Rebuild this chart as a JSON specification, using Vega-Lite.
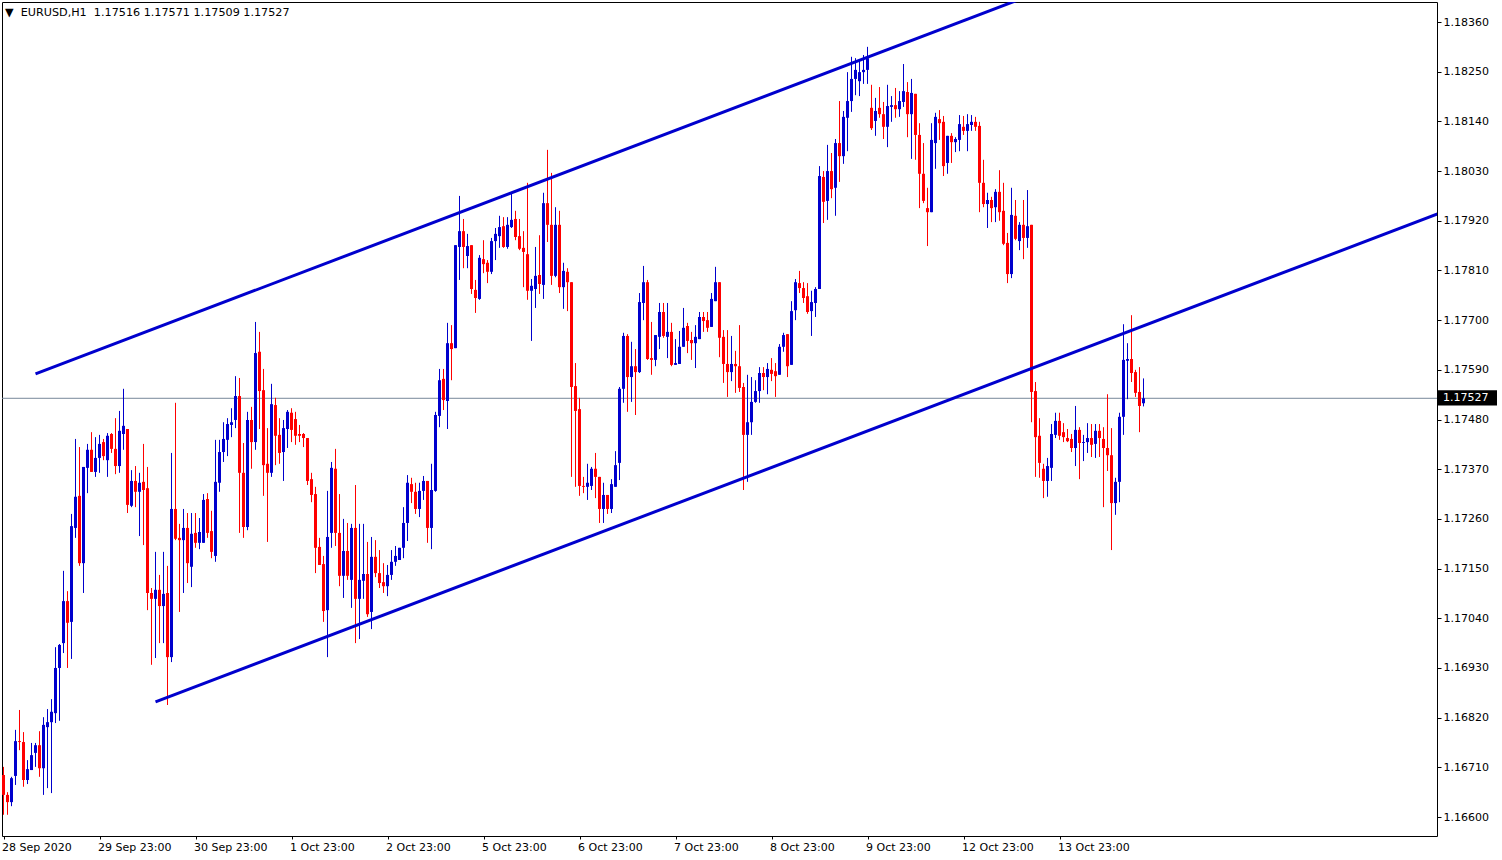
{
  "$schema": "https://vega.github.io/schema/vega-lite/v6.json",
  "width": 1435,
  "height": 834,
  "autosize": {"type": "none"},
  "padding": {"left": 2, "top": 2, "right": 65, "bottom": 24},
  "background": "white",
  "title": {"text": "▼\u00a0\u00a0EURUSD,H1\u00a0\u00a01.17516 1.17571 1.17509 1.17527", "anchor": "start", "frame": "group", "orient": "top", "baseline": "top", "offset": -16, "dx": 3, "font": "DejaVu Sans", "fontSize": 11.2, "fontWeight": "normal", "color": "black"},
  "config": {"view": {"stroke": "black", "strokeWidth": 1}, "axis": {"labelFont": "DejaVu Sans", "labelFontSize": 11, "labelColor": "black", "tickColor": "black", "domain": false, "grid": false}},
  "datasets": {
    "candles": [
{"i":0,"o":1.16693,"h":1.16711,"l":1.16605,"c":1.16649},
{"i":1,"o":1.16649,"h":1.16655,"l":1.16605,"c":1.16633},
{"i":2,"o":1.16633,"h":1.16689,"l":1.16624,"c":1.16686},
{"i":3,"o":1.16691,"h":1.16793,"l":1.16671,"c":1.16768},
{"i":4,"o":1.16768,"h":1.16837,"l":1.16748,"c":1.16766},
{"i":5,"o":1.16766,"h":1.16788,"l":1.16667,"c":1.16682},
{"i":6,"o":1.16682,"h":1.16726,"l":1.16673,"c":1.16706},
{"i":7,"o":1.16704,"h":1.16764,"l":1.16704,"c":1.16737},
{"i":8,"o":1.16742,"h":1.16764,"l":1.16711,"c":1.16759},
{"i":9,"o":1.16759,"h":1.16790,"l":1.16689,"c":1.16708},
{"i":10,"o":1.16708,"h":1.16821,"l":1.16649,"c":1.16804},
{"i":11,"o":1.16799,"h":1.16839,"l":1.16664,"c":1.16810},
{"i":12,"o":1.16810,"h":1.16861,"l":1.16653,"c":1.16833},
{"i":13,"o":1.16830,"h":1.16976,"l":1.16808,"c":1.16930},
{"i":14,"o":1.16930,"h":1.16983,"l":1.16813,"c":1.16981},
{"i":15,"o":1.16985,"h":1.17145,"l":1.16963,"c":1.17078},
{"i":16,"o":1.17078,"h":1.17100,"l":1.16930,"c":1.17030},
{"i":17,"o":1.17032,"h":1.17271,"l":1.16950,"c":1.17244},
{"i":18,"o":1.17240,"h":1.17437,"l":1.17218,"c":1.17309},
{"i":19,"o":1.17311,"h":1.17419,"l":1.17156,"c":1.17162},
{"i":20,"o":1.17162,"h":1.17375,"l":1.17096,"c":1.17375},
{"i":21,"o":1.17373,"h":1.17426,"l":1.17317,"c":1.17413},
{"i":22,"o":1.17413,"h":1.17452,"l":1.17364,"c":1.17364},
{"i":23,"o":1.17364,"h":1.17441,"l":1.17353,"c":1.17395},
{"i":24,"o":1.17395,"h":1.17446,"l":1.17362,"c":1.17426},
{"i":25,"o":1.17430,"h":1.17437,"l":1.17390,"c":1.17399},
{"i":26,"o":1.17390,"h":1.17450,"l":1.17353,"c":1.17444},
{"i":27,"o":1.17448,"h":1.17450,"l":1.17406,"c":1.17415},
{"i":28,"o":1.17415,"h":1.17483,"l":1.17359,"c":1.17377},
{"i":29,"o":1.17377,"h":1.17499,"l":1.17362,"c":1.17455},
{"i":30,"o":1.17448,"h":1.17548,"l":1.17413,"c":1.17466},
{"i":31,"o":1.17459,"h":1.17459,"l":1.17273,"c":1.17291},
{"i":32,"o":1.17289,"h":1.17368,"l":1.17286,"c":1.17344},
{"i":33,"o":1.17344,"h":1.17377,"l":1.17286,"c":1.17320},
{"i":34,"o":1.17320,"h":1.17362,"l":1.17222,"c":1.17340},
{"i":35,"o":1.17342,"h":1.17426,"l":1.17202,"c":1.17324},
{"i":36,"o":1.17328,"h":1.17375,"l":1.17058,"c":1.17096},
{"i":37,"o":1.17096,"h":1.17107,"l":1.16937,"c":1.17083},
{"i":38,"o":1.17083,"h":1.17187,"l":1.16952,"c":1.17103},
{"i":39,"o":1.17103,"h":1.17136,"l":1.16985,"c":1.17067},
{"i":40,"o":1.17067,"h":1.17187,"l":1.16985,"c":1.17094},
{"i":41,"o":1.17096,"h":1.17156,"l":1.16848,"c":1.16954},
{"i":42,"o":1.16954,"h":1.17406,"l":1.16943,"c":1.17282},
{"i":43,"o":1.17282,"h":1.17517,"l":1.17213,"c":1.17216},
{"i":44,"o":1.17218,"h":1.17249,"l":1.17054,"c":1.17213},
{"i":45,"o":1.17213,"h":1.17282,"l":1.17096,"c":1.17240},
{"i":46,"o":1.17240,"h":1.17273,"l":1.17118,"c":1.17162},
{"i":47,"o":1.17154,"h":1.17273,"l":1.17109,"c":1.17227},
{"i":48,"o":1.17229,"h":1.17273,"l":1.17196,"c":1.17207},
{"i":49,"o":1.17207,"h":1.17262,"l":1.17193,"c":1.17231},
{"i":50,"o":1.17207,"h":1.17315,"l":1.17207,"c":1.17302},
{"i":51,"o":1.17304,"h":1.17317,"l":1.17218,"c":1.17229},
{"i":52,"o":1.17233,"h":1.17278,"l":1.17173,"c":1.17187},
{"i":53,"o":1.17178,"h":1.17435,"l":1.17165,"c":1.17342},
{"i":54,"o":1.17340,"h":1.17435,"l":1.17320,"c":1.17408},
{"i":55,"o":1.17408,"h":1.17474,"l":1.17386,"c":1.17437},
{"i":56,"o":1.17435,"h":1.17483,"l":1.17399,"c":1.17470},
{"i":57,"o":1.17468,"h":1.17505,"l":1.17441,"c":1.17474},
{"i":58,"o":1.17479,"h":1.17576,"l":1.17461,"c":1.17532},
{"i":59,"o":1.17532,"h":1.17572,"l":1.17229,"c":1.17362},
{"i":60,"o":1.17362,"h":1.17428,"l":1.17218,"c":1.17242},
{"i":61,"o":1.17242,"h":1.17497,"l":1.17235,"c":1.17479},
{"i":62,"o":1.17479,"h":1.17508,"l":1.17371,"c":1.17430},
{"i":63,"o":1.17430,"h":1.17696,"l":1.17413,"c":1.17627},
{"i":64,"o":1.17630,"h":1.17674,"l":1.17459,"c":1.17543},
{"i":65,"o":1.17545,"h":1.17592,"l":1.17311,"c":1.17379},
{"i":66,"o":1.17382,"h":1.17461,"l":1.17209,"c":1.17362},
{"i":67,"o":1.17362,"h":1.17559,"l":1.17353,"c":1.17514},
{"i":68,"o":1.17512,"h":1.17528,"l":1.17379,"c":1.17444},
{"i":69,"o":1.17446,"h":1.17483,"l":1.17382,"c":1.17406},
{"i":70,"o":1.17408,"h":1.17479,"l":1.17344,"c":1.17461},
{"i":71,"o":1.17459,"h":1.17501,"l":1.17417,"c":1.17497},
{"i":72,"o":1.17495,"h":1.17505,"l":1.17430,"c":1.17457},
{"i":73,"o":1.17481,"h":1.17497,"l":1.17424,"c":1.17444},
{"i":74,"o":1.17448,"h":1.17468,"l":1.17430,"c":1.17444},
{"i":75,"o":1.17448,"h":1.17450,"l":1.17419,"c":1.17439},
{"i":76,"o":1.17439,"h":1.17439,"l":1.17335,"c":1.17344},
{"i":77,"o":1.17348,"h":1.17362,"l":1.17297,"c":1.17313},
{"i":78,"o":1.17315,"h":1.17331,"l":1.17140,"c":1.17196},
{"i":79,"o":1.17198,"h":1.17218,"l":1.17158,"c":1.17158},
{"i":80,"o":1.17160,"h":1.17178,"l":1.17032,"c":1.17056},
{"i":81,"o":1.17058,"h":1.17322,"l":1.16954,"c":1.17220},
{"i":82,"o":1.17229,"h":1.17386,"l":1.17196,"c":1.17373},
{"i":83,"o":1.17371,"h":1.17415,"l":1.17200,"c":1.17229},
{"i":84,"o":1.17229,"h":1.17315,"l":1.17111,"c":1.17134},
{"i":85,"o":1.17134,"h":1.17260,"l":1.17085,"c":1.17189},
{"i":86,"o":1.17189,"h":1.17251,"l":1.17125,"c":1.17134},
{"i":87,"o":1.17125,"h":1.17249,"l":1.17063,"c":1.17240},
{"i":88,"o":1.17240,"h":1.17335,"l":1.16985,"c":1.17083},
{"i":89,"o":1.17083,"h":1.17249,"l":1.16994,"c":1.17125},
{"i":90,"o":1.17123,"h":1.17249,"l":1.17083,"c":1.17138},
{"i":91,"o":1.17138,"h":1.17209,"l":1.17043,"c":1.17049},
{"i":92,"o":1.17054,"h":1.17220,"l":1.17016,"c":1.17176},
{"i":93,"o":1.17176,"h":1.17213,"l":1.17131,"c":1.17140},
{"i":94,"o":1.17140,"h":1.17191,"l":1.17107,"c":1.17118},
{"i":95,"o":1.17120,"h":1.17162,"l":1.17096,"c":1.17111},
{"i":96,"o":1.17111,"h":1.17158,"l":1.17089,"c":1.17136},
{"i":97,"o":1.17136,"h":1.17191,"l":1.17125,"c":1.17165},
{"i":98,"o":1.17165,"h":1.17200,"l":1.17156,"c":1.17178},
{"i":99,"o":1.17169,"h":1.17196,"l":1.17169,"c":1.17196},
{"i":100,"o":1.17196,"h":1.17286,"l":1.17173,"c":1.17251},
{"i":101,"o":1.17251,"h":1.17357,"l":1.17211,"c":1.17340},
{"i":102,"o":1.17337,"h":1.17351,"l":1.17295,"c":1.17320},
{"i":103,"o":1.17320,"h":1.17340,"l":1.17271,"c":1.17282},
{"i":104,"o":1.17282,"h":1.17340,"l":1.17264,"c":1.17322},
{"i":105,"o":1.17322,"h":1.17355,"l":1.17302,"c":1.17344},
{"i":106,"o":1.17344,"h":1.17344,"l":1.17207,"c":1.17240},
{"i":107,"o":1.17240,"h":1.17382,"l":1.17193,"c":1.17324},
{"i":108,"o":1.17322,"h":1.17497,"l":1.17320,"c":1.17490},
{"i":109,"o":1.17488,"h":1.17592,"l":1.17463,"c":1.17567},
{"i":110,"o":1.17570,"h":1.17592,"l":1.17501,"c":1.17523},
{"i":111,"o":1.17521,"h":1.17694,"l":1.17459,"c":1.17649},
{"i":112,"o":1.17649,"h":1.17689,"l":1.17567,"c":1.17636},
{"i":113,"o":1.17638,"h":1.17866,"l":1.17638,"c":1.17866},
{"i":114,"o":1.17862,"h":1.17975,"l":1.17789,"c":1.17897},
{"i":115,"o":1.17897,"h":1.17924,"l":1.17815,"c":1.17862},
{"i":116,"o":1.17842,"h":1.17891,"l":1.17815,"c":1.17864},
{"i":117,"o":1.17866,"h":1.17866,"l":1.17758,"c":1.17769},
{"i":118,"o":1.17767,"h":1.17789,"l":1.17716,"c":1.17749},
{"i":119,"o":1.17747,"h":1.17844,"l":1.17745,"c":1.17838},
{"i":120,"o":1.17835,"h":1.17877,"l":1.17804,"c":1.17824},
{"i":121,"o":1.17827,"h":1.17833,"l":1.17782,"c":1.17807},
{"i":122,"o":1.17807,"h":1.17882,"l":1.17802,"c":1.17875},
{"i":123,"o":1.17875,"h":1.17904,"l":1.17833,"c":1.17891},
{"i":124,"o":1.17886,"h":1.17931,"l":1.17860,"c":1.17906},
{"i":125,"o":1.17908,"h":1.17928,"l":1.17860,"c":1.17862},
{"i":126,"o":1.17862,"h":1.17928,"l":1.17858,"c":1.17911},
{"i":127,"o":1.17906,"h":1.17982,"l":1.17904,"c":1.17922},
{"i":128,"o":1.17924,"h":1.17942,"l":1.17877,"c":1.17884},
{"i":129,"o":1.17886,"h":1.17924,"l":1.17855,"c":1.17858},
{"i":130,"o":1.17860,"h":1.17897,"l":1.17773,"c":1.17851},
{"i":131,"o":1.17846,"h":1.18004,"l":1.17745,"c":1.17765},
{"i":132,"o":1.17765,"h":1.17791,"l":1.17654,"c":1.17776},
{"i":133,"o":1.17769,"h":1.17862,"l":1.17727,"c":1.17798},
{"i":134,"o":1.17800,"h":1.17888,"l":1.17758,"c":1.17780},
{"i":135,"o":1.17778,"h":1.17982,"l":1.17747,"c":1.17959},
{"i":136,"o":1.17959,"h":1.18077,"l":1.17873,"c":1.17911},
{"i":137,"o":1.17911,"h":1.18026,"l":1.17778,"c":1.17798},
{"i":138,"o":1.17798,"h":1.17950,"l":1.17795,"c":1.17911},
{"i":139,"o":1.17911,"h":1.17942,"l":1.17760,"c":1.17773},
{"i":140,"o":1.17773,"h":1.17827,"l":1.17725,"c":1.17809},
{"i":141,"o":1.17807,"h":1.17815,"l":1.17720,"c":1.17784},
{"i":142,"o":1.17784,"h":1.17784,"l":1.17353,"c":1.17552},
{"i":143,"o":1.17554,"h":1.17605,"l":1.17331,"c":1.17499},
{"i":144,"o":1.17503,"h":1.17528,"l":1.17311,"c":1.17333},
{"i":145,"o":1.17333,"h":1.17353,"l":1.17317,"c":1.17331},
{"i":146,"o":1.17331,"h":1.17382,"l":1.17302,"c":1.17340},
{"i":147,"o":1.17333,"h":1.17375,"l":1.17324,"c":1.17371},
{"i":148,"o":1.17371,"h":1.17406,"l":1.17306,"c":1.17353},
{"i":149,"o":1.17353,"h":1.17353,"l":1.17251,"c":1.17282},
{"i":150,"o":1.17282,"h":1.17340,"l":1.17251,"c":1.17313},
{"i":151,"o":1.17313,"h":1.17313,"l":1.17271,"c":1.17282},
{"i":152,"o":1.17282,"h":1.17348,"l":1.17273,"c":1.17337},
{"i":153,"o":1.17331,"h":1.17410,"l":1.17331,"c":1.17379},
{"i":154,"o":1.17384,"h":1.17552,"l":1.17346,"c":1.17548},
{"i":155,"o":1.17548,"h":1.17672,"l":1.17517,"c":1.17665},
{"i":156,"o":1.17665,"h":1.17669,"l":1.17497,"c":1.17574},
{"i":157,"o":1.17574,"h":1.17652,"l":1.17519,"c":1.17598},
{"i":158,"o":1.17598,"h":1.17636,"l":1.17490,"c":1.17585},
{"i":159,"o":1.17585,"h":1.17760,"l":1.17583,"c":1.17740},
{"i":160,"o":1.17738,"h":1.17820,"l":1.17700,"c":1.17784},
{"i":161,"o":1.17784,"h":1.17789,"l":1.17612,"c":1.17614},
{"i":162,"o":1.17616,"h":1.17696,"l":1.17579,"c":1.17612},
{"i":163,"o":1.17612,"h":1.17667,"l":1.17598,"c":1.17667},
{"i":164,"o":1.17663,"h":1.17738,"l":1.17636,"c":1.17718},
{"i":165,"o":1.17718,"h":1.17738,"l":1.17661,"c":1.17665},
{"i":166,"o":1.17663,"h":1.17738,"l":1.17616,"c":1.17674},
{"i":167,"o":1.17674,"h":1.17694,"l":1.17598,"c":1.17601},
{"i":168,"o":1.17601,"h":1.17658,"l":1.17601,"c":1.17605},
{"i":169,"o":1.17603,"h":1.17676,"l":1.17603,"c":1.17641},
{"i":170,"o":1.17641,"h":1.17727,"l":1.17641,"c":1.17683},
{"i":171,"o":1.17687,"h":1.17694,"l":1.17627,"c":1.17654},
{"i":172,"o":1.17656,"h":1.17674,"l":1.17612,"c":1.17649},
{"i":173,"o":1.17649,"h":1.17689,"l":1.17594,"c":1.17663},
{"i":174,"o":1.17658,"h":1.17718,"l":1.17658,"c":1.17707},
{"i":175,"o":1.17707,"h":1.17718,"l":1.17674,"c":1.17698},
{"i":176,"o":1.17700,"h":1.17718,"l":1.17674,"c":1.17683},
{"i":177,"o":1.17685,"h":1.17760,"l":1.17685,"c":1.17747},
{"i":178,"o":1.17742,"h":1.17818,"l":1.17742,"c":1.17784},
{"i":179,"o":1.17784,"h":1.17784,"l":1.17618,"c":1.17661},
{"i":180,"o":1.17663,"h":1.17678,"l":1.17561,"c":1.17603},
{"i":181,"o":1.17603,"h":1.17678,"l":1.17530,"c":1.17585},
{"i":182,"o":1.17585,"h":1.17665,"l":1.17565,"c":1.17603},
{"i":183,"o":1.17603,"h":1.17632,"l":1.17539,"c":1.17598},
{"i":184,"o":1.17598,"h":1.17689,"l":1.17541,"c":1.17550},
{"i":185,"o":1.17552,"h":1.17561,"l":1.17324,"c":1.17446},
{"i":186,"o":1.17446,"h":1.17579,"l":1.17342,"c":1.17474},
{"i":187,"o":1.17474,"h":1.17574,"l":1.17446,"c":1.17519},
{"i":188,"o":1.17519,"h":1.17567,"l":1.17517,"c":1.17543},
{"i":189,"o":1.17543,"h":1.17596,"l":1.17517,"c":1.17583},
{"i":190,"o":1.17583,"h":1.17596,"l":1.17545,"c":1.17574},
{"i":191,"o":1.17574,"h":1.17605,"l":1.17536,"c":1.17592},
{"i":192,"o":1.17590,"h":1.17616,"l":1.17565,"c":1.17581},
{"i":193,"o":1.17587,"h":1.17605,"l":1.17530,"c":1.17576},
{"i":194,"o":1.17579,"h":1.17647,"l":1.17579,"c":1.17641},
{"i":195,"o":1.17641,"h":1.17672,"l":1.17630,"c":1.17667},
{"i":196,"o":1.17669,"h":1.17669,"l":1.17574,"c":1.17598},
{"i":197,"o":1.17601,"h":1.17742,"l":1.17601,"c":1.17720},
{"i":198,"o":1.17722,"h":1.17791,"l":1.17700,"c":1.17784},
{"i":199,"o":1.17782,"h":1.17809,"l":1.17760,"c":1.17771},
{"i":200,"o":1.17771,"h":1.17784,"l":1.17738,"c":1.17749},
{"i":201,"o":1.17753,"h":1.17782,"l":1.17714,"c":1.17718},
{"i":202,"o":1.17720,"h":1.17765,"l":1.17665,"c":1.17740},
{"i":203,"o":1.17738,"h":1.17773,"l":1.17707,"c":1.17769},
{"i":204,"o":1.17769,"h":1.18041,"l":1.17769,"c":1.18019},
{"i":205,"o":1.18017,"h":1.18030,"l":1.17915,"c":1.17962},
{"i":206,"o":1.17964,"h":1.18088,"l":1.17922,"c":1.18030},
{"i":207,"o":1.18030,"h":1.18070,"l":1.17970,"c":1.17990},
{"i":208,"o":1.17993,"h":1.18101,"l":1.17931,"c":1.18092},
{"i":209,"o":1.18092,"h":1.18185,"l":1.18006,"c":1.18063},
{"i":210,"o":1.18063,"h":1.18163,"l":1.18046,"c":1.18150},
{"i":211,"o":1.18148,"h":1.18249,"l":1.18074,"c":1.18185},
{"i":212,"o":1.18185,"h":1.18283,"l":1.18161,"c":1.18234},
{"i":213,"o":1.18234,"h":1.18280,"l":1.18198,"c":1.18254},
{"i":214,"o":1.18229,"h":1.18276,"l":1.18196,"c":1.18249},
{"i":215,"o":1.18249,"h":1.18287,"l":1.18223,"c":1.18254},
{"i":216,"o":1.18254,"h":1.18305,"l":1.18223,"c":1.18280},
{"i":217,"o":1.18170,"h":1.18221,"l":1.18121,"c":1.18125},
{"i":218,"o":1.18141,"h":1.18192,"l":1.18108,"c":1.18163},
{"i":219,"o":1.18170,"h":1.18216,"l":1.18148,"c":1.18156},
{"i":220,"o":1.18156,"h":1.18183,"l":1.18101,"c":1.18128},
{"i":221,"o":1.18128,"h":1.18221,"l":1.18083,"c":1.18174},
{"i":222,"o":1.18172,"h":1.18196,"l":1.18139,"c":1.18176},
{"i":223,"o":1.18176,"h":1.18214,"l":1.18148,"c":1.18167},
{"i":224,"o":1.18167,"h":1.18207,"l":1.18150,"c":1.18185},
{"i":225,"o":1.18183,"h":1.18267,"l":1.18172,"c":1.18207},
{"i":226,"o":1.18205,"h":1.18227,"l":1.18105,"c":1.18156},
{"i":227,"o":1.18156,"h":1.18234,"l":1.18057,"c":1.18203},
{"i":228,"o":1.18201,"h":1.18201,"l":1.18055,"c":1.18110},
{"i":229,"o":1.18110,"h":1.18136,"l":1.17948,"c":1.18024},
{"i":230,"o":1.18024,"h":1.18092,"l":1.17959,"c":1.17964},
{"i":231,"o":1.17948,"h":1.17993,"l":1.17864,"c":1.17939},
{"i":232,"o":1.17939,"h":1.18136,"l":1.17939,"c":1.18099},
{"i":233,"o":1.18092,"h":1.18159,"l":1.18035,"c":1.18150},
{"i":234,"o":1.18145,"h":1.18165,"l":1.18099,"c":1.18136},
{"i":235,"o":1.18139,"h":1.18152,"l":1.18019,"c":1.18041},
{"i":236,"o":1.18048,"h":1.18108,"l":1.18024,"c":1.18108},
{"i":237,"o":1.18108,"h":1.18114,"l":1.18048,"c":1.18094},
{"i":238,"o":1.18094,"h":1.18105,"l":1.18072,"c":1.18101},
{"i":239,"o":1.18099,"h":1.18154,"l":1.18074,"c":1.18134},
{"i":240,"o":1.18128,"h":1.18152,"l":1.18110,"c":1.18119},
{"i":241,"o":1.18119,"h":1.18156,"l":1.18074,"c":1.18134},
{"i":242,"o":1.18132,"h":1.18154,"l":1.18119,"c":1.18139},
{"i":243,"o":1.18139,"h":1.18150,"l":1.18119,"c":1.18128},
{"i":244,"o":1.18130,"h":1.18139,"l":1.17939,"c":1.18004},
{"i":245,"o":1.18004,"h":1.18055,"l":1.17950,"c":1.17957},
{"i":246,"o":1.17957,"h":1.17982,"l":1.17904,"c":1.17966},
{"i":247,"o":1.17966,"h":1.17973,"l":1.17917,"c":1.17948},
{"i":248,"o":1.17950,"h":1.17990,"l":1.17917,"c":1.17984},
{"i":249,"o":1.17984,"h":1.18032,"l":1.17920,"c":1.17939},
{"i":250,"o":1.17942,"h":1.18004,"l":1.17866,"c":1.17869},
{"i":251,"o":1.17871,"h":1.17893,"l":1.17782,"c":1.17802},
{"i":252,"o":1.17802,"h":1.17993,"l":1.17793,"c":1.17933},
{"i":253,"o":1.17931,"h":1.17966,"l":1.17877,"c":1.17880},
{"i":254,"o":1.17875,"h":1.17917,"l":1.17855,"c":1.17911},
{"i":255,"o":1.17911,"h":1.17966,"l":1.17835,"c":1.17882},
{"i":256,"o":1.17882,"h":1.17988,"l":1.17860,"c":1.17908},
{"i":257,"o":1.17911,"h":1.17911,"l":1.17474,"c":1.17541},
{"i":258,"o":1.17543,"h":1.17563,"l":1.17353,"c":1.17441},
{"i":259,"o":1.17444,"h":1.17483,"l":1.17351,"c":1.17384},
{"i":260,"o":1.17371,"h":1.17382,"l":1.17306,"c":1.17344},
{"i":261,"o":1.17344,"h":1.17395,"l":1.17309,"c":1.17377},
{"i":262,"o":1.17373,"h":1.17470,"l":1.17344,"c":1.17448},
{"i":263,"o":1.17446,"h":1.17495,"l":1.17439,"c":1.17477},
{"i":264,"o":1.17477,"h":1.17495,"l":1.17435,"c":1.17444},
{"i":265,"o":1.17452,"h":1.17472,"l":1.17430,"c":1.17441},
{"i":266,"o":1.17439,"h":1.17459,"l":1.17430,"c":1.17432},
{"i":267,"o":1.17437,"h":1.17448,"l":1.17408,"c":1.17417},
{"i":268,"o":1.17417,"h":1.17510,"l":1.17377,"c":1.17457},
{"i":269,"o":1.17457,"h":1.17463,"l":1.17348,"c":1.17428},
{"i":270,"o":1.17428,"h":1.17446,"l":1.17388,"c":1.17430},
{"i":271,"o":1.17430,"h":1.17472,"l":1.17406,"c":1.17439},
{"i":272,"o":1.17439,"h":1.17470,"l":1.17397,"c":1.17424},
{"i":273,"o":1.17426,"h":1.17470,"l":1.17395,"c":1.17455},
{"i":274,"o":1.17455,"h":1.17470,"l":1.17397,"c":1.17439},
{"i":275,"o":1.17437,"h":1.17463,"l":1.17286,"c":1.17417},
{"i":276,"o":1.17417,"h":1.17536,"l":1.17366,"c":1.17401},
{"i":277,"o":1.17401,"h":1.17461,"l":1.17191,"c":1.17295},
{"i":278,"o":1.17295,"h":1.17351,"l":1.17269,"c":1.17342},
{"i":279,"o":1.17342,"h":1.17495,"l":1.17297,"c":1.17486},
{"i":280,"o":1.17486,"h":1.17691,"l":1.17446,"c":1.17612},
{"i":281,"o":1.17610,"h":1.17649,"l":1.17525,"c":1.17614},
{"i":282,"o":1.17614,"h":1.17711,"l":1.17563,"c":1.17583},
{"i":283,"o":1.17585,"h":1.17590,"l":1.17530,"c":1.17539},
{"i":284,"o":1.17541,"h":1.17596,"l":1.17452,"c":1.17510},
{"i":285,"o":1.17516,"h":1.17571,"l":1.17509,"c":1.17527}
    ],
    "trendlines": [
      {"i": 8, "p": 1.17581, "i2": 262, "p2": 1.18437},
      {"i": 38, "p": 1.16855, "i2": 358.5, "p2": 1.17935}
    ],
    "bid": [{"p": 1.17527, "label": "1.17527"}]
  },
  "layer": [
    {
      "data": {"name": "bid"},
      "mark": {"type": "rule", "color": "#778899", "strokeWidth": 1},
      "encoding": {
        "y": {"field": "p", "type": "quantitative", "scale": {"domain": [1.16558, 1.184043], "nice": false, "zero": false, "padding": 0}, "title": null}
      }
    },
    {
      "data": {"name": "candles"},
      "mark": {"type": "rule", "strokeWidth": 1},
      "encoding": {
        "x": {"field": "i", "type": "quantitative", "scale": {"domain": [-0.375, 358.375], "nice": false, "zero": false, "padding": 0}, "title": null,
              "axis": {"orient": "bottom", "values": [0, 24, 48, 72, 96, 120, 144, 168, 192, 216, 240, 264],
                       "labelExpr": "['28 Sep 2020','29 Sep 23:00','30 Sep 23:00','1 Oct 23:00','2 Oct 23:00','5 Oct 23:00','6 Oct 23:00','7 Oct 23:00','8 Oct 23:00','9 Oct 23:00','12 Oct 23:00','13 Oct 23:00'][round(datum.value/24)]",
                       "labelAlign": "left", "labelBaseline": "top", "labelPadding": 2, "labelOffset": -2, "tickSize": 3, "labelFlush": false, "labelOverlap": false}},
        "y": {"field": "l", "type": "quantitative", "scale": {"domain": [1.16558, 1.184043], "nice": false, "zero": false, "padding": 0}, "title": null,
              "axis": {"orient": "right", "values": [1.166, 1.1671, 1.1682, 1.1693, 1.1704, 1.1715, 1.1726, 1.1737, 1.1748, 1.1759, 1.177, 1.1781, 1.1792, 1.1803, 1.1814, 1.1825, 1.1836],
                       "format": ".5f", "labelAlign": "left", "labelBaseline": "middle", "labelPadding": 2, "tickSize": 4, "labelOverlap": false, "labelFlush": false}},
        "y2": {"field": "h"},
        "color": {"condition": {"test": "datum.c >= datum.o", "value": "#0000CD"}, "value": "#FF0000"}
      }
    },
    {
      "data": {"name": "candles"},
      "mark": {"type": "bar", "width": 3},
      "encoding": {
        "x": {"field": "i", "type": "quantitative", "scale": {"domain": [-0.375, 358.375], "nice": false, "zero": false, "padding": 0}, "title": null},
        "y": {"field": "o", "type": "quantitative", "scale": {"domain": [1.16558, 1.184043], "nice": false, "zero": false, "padding": 0}, "title": null},
        "y2": {"field": "c"},
        "color": {"condition": {"test": "datum.c >= datum.o", "value": "#0000CD"}, "value": "#FF0000"}
      }
    },
    {
      "data": {"name": "trendlines"},
      "mark": {"type": "rule", "color": "#0000CD", "strokeWidth": 3, "clip": true},
      "encoding": {
        "x": {"field": "i", "type": "quantitative", "scale": {"domain": [-0.375, 358.375], "nice": false, "zero": false, "padding": 0}, "title": null},
        "y": {"field": "p", "type": "quantitative", "scale": {"domain": [1.16558, 1.184043], "nice": false, "zero": false, "padding": 0}, "title": null},
        "x2": {"field": "i2"},
        "y2": {"field": "p2"}
      }
    },
    {
      "data": {"name": "bid"},
      "mark": {"type": "rect", "color": "black", "clip": false},
      "encoding": {
        "x": {"datum": 358.625, "type": "quantitative", "scale": {"domain": [-0.375, 358.375], "nice": false, "zero": false, "padding": 0}},
        "x2": {"datum": 373.375},
        "y": {"datum": 1.17545, "type": "quantitative", "scale": {"domain": [1.16558, 1.184043], "nice": false, "zero": false, "padding": 0}},
        "y2": {"datum": 1.17511}
      }
    },
    {
      "data": {"name": "bid"},
      "mark": {"type": "text", "color": "white", "align": "left", "baseline": "middle", "font": "DejaVu Sans", "fontSize": 11, "clip": false},
      "encoding": {
        "x": {"datum": 359.9, "type": "quantitative", "scale": {"domain": [-0.375, 358.375], "nice": false, "zero": false, "padding": 0}},
        "y": {"field": "p", "type": "quantitative", "scale": {"domain": [1.16558, 1.184043], "nice": false, "zero": false, "padding": 0}, "title": null},
        "text": {"field": "label"}
      }
    }
  ]
}
